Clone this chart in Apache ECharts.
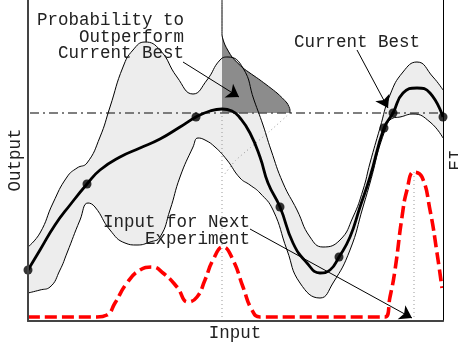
<!DOCTYPE html>
<html>
<head>
<meta charset="utf-8">
<script src="https://cdn.jsdelivr.net/npm/echarts@6/dist/echarts.min.js"></script>
<style>
  html, body { margin: 0; padding: 0; background: #fff; }
  #chart { width: 458px; height: 347px; }
</style>
</head>
<body>
<div id="chart"></div>
<script>
// Input / output extents (arbitrary units)
const inputRange = [0, 83];
const outputRange = [0, 64.2];
const currentBest = 41.6;     // best observed output so far
const probeInput = 38.8;      // input where the predictive density is shown
const nextInput = 77.2;       // argmax of expected improvement

// Observed experiments
const observations = [
  [0, 10.2], [11.8, 27.4], [33.6, 40.8], [50.4, 22.8],
  [62.2, 12.8], [71.2, 38.6], [73.0, 41.6], [83.0, 40.8]
];

// Surrogate posterior mean
const posteriorMean = [
  [0, 10.2], [2.4, 14.2], [5.4, 19.2], [8.4, 23.2], [11.8, 27.4], [14.4, 30.2],
  [18.4, 32.8], [22.4, 34.6], [26.4, 36.4], [30.4, 38.8], [33.6, 40.8], [36.4, 42.0],
  [38.8, 42.4], [40.8, 42.0], [42.4, 40.6], [44.4, 37.6], [46.4, 32.8], [48.0, 27.6],
  [50.4, 22.8], [53.0, 15.6], [55.8, 11.6], [58.4, 9.6], [60.4, 10.2], [62.2, 12.8],
  [64.4, 16.8], [66.4, 22.8], [68.4, 28.8], [71.2, 38.6], [73.0, 41.6], [75.0, 45.6],
  [77.8, 46.6], [80.4, 45.6], [83.0, 40.8]
];

// Upper edge of the confidence band
const upperBound = [
  [0, 14.8], [2.4, 17.6], [5.0, 23.6], [7.8, 28.8], [9.8, 30.6], [11.8, 31.6],
  [14.4, 36.8], [16.4, 42.8], [19.0, 50.8], [21.0, 54.2], [23.4, 55.8], [26.4, 54.2],
  [29.8, 48.8], [33.0, 45.4], [35.8, 48.2], [38.4, 52.2], [40.0, 52.8], [43.0, 50.6],
  [45.2, 44.2], [47.0, 39.2], [48.6, 34.2], [51.0, 27.6], [53.8, 22.2], [56.4, 16.8],
  [59.0, 14.8], [62.4, 16.2], [65.0, 20.8], [67.0, 26.2], [68.4, 31.6], [70.4, 38.6],
  [72.4, 45.2], [75.0, 49.8], [77.8, 51.8], [81.0, 48.8], [83.0, 46.2]
];

// Lower edge of the confidence band
const lowerBound = [
  [0, 5.6], [2.4, 6.2], [4.4, 6.8], [6.4, 10.2], [7.8, 13.6], [10.4, 20.2],
  [12.0, 23.6], [13.4, 22.8], [16.4, 18.2], [19.4, 15.6], [21.8, 15.2], [24.4, 15.8],
  [26.4, 16.8], [28.4, 22.2], [30.4, 28.8], [33.0, 34.8], [34.0, 36.6], [35.4, 36.2],
  [37.4, 34.8], [39.8, 32.2], [42.4, 28.6], [44.4, 27.2], [46.4, 25.6], [49.0, 22.2],
  [51.8, 14.2], [54.4, 7.6], [58.4, 4.6], [61.0, 7.6], [64.4, 14.2], [67.0, 22.8],
  [68.4, 27.6], [71.2, 37.6], [73.0, 40.6], [74.4, 40.8], [77.0, 41.4], [80.4, 39.8],
  [83.0, 36.6]
];

// Acquisition function (expected improvement)
const expectedImprovement = [
  [0, 0.8], [13.8, 0.8], [15.8, 1.2], [17.4, 3.6], [19.8, 7.6], [22.4, 10.2],
  [24.8, 10.8], [27.0, 9.6], [29.8, 6.8], [32.0, 3.8], [33.8, 4.8], [35.4, 8.2],
  [37.0, 12.2], [39.0, 14.8], [41.0, 12.2], [43.0, 6.8], [44.8, 2.2], [46.4, 0.8],
  [71.4, 0.8], [72.4, 4.8], [73.4, 10.2], [74.8, 20.8], [75.8, 26.2], [77.2, 29.8],
  [78.8, 28.8], [80.4, 22.2], [81.8, 13.6], [82.8, 6.6]
];

// Predictive density at probeInput, drawn sideways (part above the current best)
const densityAbove = [
  [38.8, 64.2], [38.8, 57.2], [39.4, 55.2], [40.8, 52.8], [43.0, 50.6],
  [46.4, 48.2], [49.8, 45.6], [51.8, 43.6], [52.4, 42.2], [52.4, 41.6]
];
// ... and the part below it
const densityBelow = [
  [52.4, 41.6], [48.4, 38.0], [44.4, 34.6], [41.4, 32.0], [39.2, 29.2]
];

// Annotation arrows: [from, to]
const arrows = [
  [[31.0, 51.8], [42.2, 44.8]],
  [[65.8, 54.2], [72.0, 42.6]],
  [[44.4, 18.4], [76.8, 0.6]]
];

const FONT = '"Liberation Mono", "DejaVu Sans Mono", monospace';
const SMOOTH = 0.5;
const chart = echarts.init(document.getElementById('chart'));

function plainLine(data, extra) {
  return Object.assign({
    type: 'line', data: data, symbol: 'none', silent: true,
    smooth: SMOOTH, lineStyle: { color: '#000', width: 1 }
  }, extra);
}

chart.setOption({
  animation: false,
  grid: { left: 28, right: 15, top: 0, bottom: 26 },
  xAxis: {
    type: 'value', min: inputRange[0], max: inputRange[1], z: 10,
    axisLine: { show: true, onZero: false, lineStyle: { color: '#444', width: 2 } },
    axisTick: { show: false }, axisLabel: { show: false }, splitLine: { show: false }
  },
  yAxis: [{
    type: 'value', min: outputRange[0], max: outputRange[1], z: 10,
    axisLine: { show: true, onZero: false, lineStyle: { color: '#444', width: 2 } },
    axisTick: { show: false }, axisLabel: { show: false }, splitLine: { show: false }
  }, {
    type: 'value', position: 'right', min: outputRange[0], max: outputRange[1], z: 10,
    axisLine: { show: true, onZero: false, lineStyle: { color: '#000', width: 1 } },
    axisTick: { show: false }, axisLabel: { show: false }, splitLine: { show: false }
  }],
  series: [
    // band fill: gray under the upper edge, white under the lower edge
    plainLine(upperBound, { z: 1, lineStyle: { width: 0 },
      areaStyle: { color: '#ededed', opacity: 1, origin: 'start' } }),
    plainLine(lowerBound, { z: 2, lineStyle: { width: 0 },
      areaStyle: { color: '#ffffff', opacity: 1, origin: 'start' } }),
    // probability mass above the current best
    {
      type: 'custom', z: 3, silent: true,
      data: [[probeInput, currentBest]],
      renderItem: function (params, api) {
        const pts = densityAbove.map(function (p) { return api.coord(p); });
        pts.push(api.coord([probeInput, currentBest]));
        return { type: 'polygon', shape: { points: pts, smooth: 0 },
          style: { fill: '#8c8c8c' } };
      }
    },
    // guides
    plainLine([[probeInput, 0], [probeInput, currentBest]], { z: 4, smooth: false,
      lineStyle: { color: '#999', width: 1, type: [1, 3] } }),
    plainLine([[nextInput, 0], [nextInput, 29.8]], { z: 4, smooth: false,
      lineStyle: { color: '#999', width: 1, type: [1, 3] } }),
    plainLine([[0.4, currentBest], [inputRange[1], currentBest]], { z: 4, smooth: false,
      lineStyle: { color: '#555', width: 1.3, type: [9, 4, 2, 4] } }),
    // predictive density outline
    plainLine(densityAbove, { z: 6, smooth: 0.2 }),
    plainLine(densityBelow, { z: 6, smooth: 0.2,
      lineStyle: { color: '#999', width: 1, type: [1, 3] } }),
    // band edges and mean
    plainLine(upperBound, { z: 6 }),
    plainLine(lowerBound, { z: 6 }),
    plainLine(posteriorMean, { z: 7, lineStyle: { color: '#000', width: 2.8 } }),
    // expected improvement
    plainLine(expectedImprovement, { z: 7,
      lineStyle: { color: '#ff0000', width: 3.6, type: [12, 5] } }),
    // observations
    {
      type: 'scatter', data: observations, z: 8, clip: false, silent: true,
      symbol: 'circle', symbolSize: 9, itemStyle: { color: '#000' }
    },
    // annotation arrows
    {
      type: 'line', data: [], z: 9, silent: true,
      markLine: {
        silent: true, animation: false,
        symbol: ['none', 'arrow'], symbolSize: 12,
        label: { show: false },
        lineStyle: { color: '#000', width: 1, type: 'solid' },
        emphasis: { disabled: true },
        data: arrows.map(function (a) {
          return [{ coord: a[0] }, { coord: a[1] }];
        })
      }
    }
  ],
  graphic: [
    { type: 'text', z: 20, silent: true, style: {
      text: 'Probability to\nOutperform\nCurrent Best', x: 184, y: 12.5,
      align: 'right', verticalAlign: 'top', font: '17.5px ' + FONT,
      lineHeight: 16.5, fill: '#222' } },
    { type: 'text', z: 20, silent: true, style: {
      text: 'Current Best', x: 294, y: 42,
      align: 'left', verticalAlign: 'middle', font: '17.5px ' + FONT, fill: '#222' } },
    { type: 'text', z: 20, silent: true, style: {
      text: 'Input for Next\nExperiment', x: 250, y: 213.5,
      align: 'right', verticalAlign: 'top', font: '17.5px ' + FONT,
      lineHeight: 17, fill: '#222' } },
    { type: 'text', z: 20, silent: true, style: {
      text: 'Input', x: 235, y: 333,
      align: 'center', verticalAlign: 'middle', font: '17.5px ' + FONT, fill: '#222' } },
    { type: 'text', z: 20, silent: true, x: 15, y: 160, rotation: Math.PI / 2, style: {
      text: 'Output', x: 0, y: 0,
      align: 'center', verticalAlign: 'middle', font: '17.5px ' + FONT, fill: '#222' } },
    { type: 'text', z: 20, silent: true, x: 456, y: 160, rotation: Math.PI / 2, style: {
      text: 'EI', x: 0, y: 0,
      align: 'center', verticalAlign: 'middle', font: '17.5px ' + FONT, fill: '#222' } }
  ]
});
</script>
</body>
</html>
